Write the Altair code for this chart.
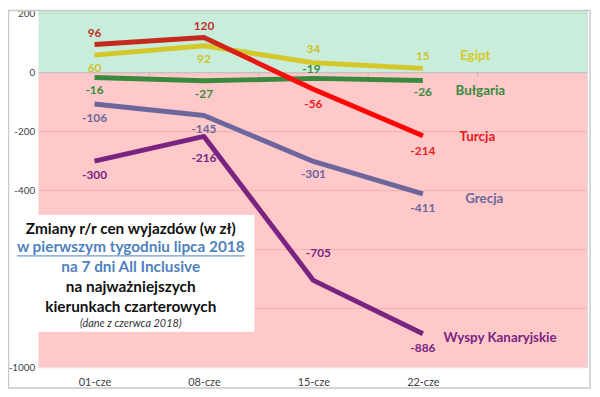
import altair as alt
import pandas as pd

# ---- data ----
dates = ["01-cze", "08-cze", "15-cze", "22-cze"]
series = ["Turcja", "Egipt", "Bułgaria", "Grecja", "Wyspy Kanaryjskie"]
turcja = [96, 120, -56, -214]
egipt = [60, 92, 34, 15]
bulgaria = [-16, -27, -19, -26]
grecja = [-106, -145, -301, -411]
wyspy = [-300, -216, -705, -886]
values = [turcja, egipt, bulgaria, grecja, wyspy]

y_ticks = [200, 0, -200, -400, -1000]
grid_values = [200, -200, -400, -600, -800]

title_lines = [
    "Zmiany r/r cen wyjazdów (w zł)",
    "w pierwszym tygodniu lipca 2018",
    "na 7 dni All Inclusive",
    "na najważniejszych",
    "kierunkach czarterowych",
    "(dane z czerwca 2018)",
]

# ---- styles / label placement (pixels) ----
colors = ["#e8181c", "#d4c72a", "#3a8a3e", "#6c669c", "#7a2482"]
label_colors = [
    ["#c0302a", "#c0302a", "#ee1c1c", "#ee1c1c"],
    ["#cfc22e"] * 4,
    ["#3a8a3e"] * 4,
    ["#6c669c"] * 4,
    ["#7a2482"] * 4,
]
label_dy = [
    [-12, -12, 15, 15],
    [13, 13, -14, -12],
    [13, 13, -9, 12],
    [14, 14, 13, 14],
    [14, 22, -28, 14],
]
label_dx = [
    [0, 0, 0, 0],
    [0, 0, 0, 0],
    [0, 0, -2, 0],
    [0, 0, 0, 0],
    [0, 0, 5, 0],
]
name_dx = [55, 53, 58, 62, 78]
name_dy = [1, -12, 11, 5, 4]

FONT = "Lato"
W, H = 554, 360
YMIN, YMAX = -1000, 210
XMIN, XMAX = -0.51, 4.5
PX_Y = H / (YMAX - YMIN)
PX_X = W / (XMAX - XMIN)

rows = []
for s, vals, lc, dys, dxs in zip(series, values, label_colors, label_dy, label_dx):
    for i, v in enumerate(vals):
        rows.append({"series": s, "idx": i, "value": v,
                     "lcolor": lc[i], "dy": dys[i], "dx": dxs[i]})
df = pd.DataFrame(rows)

names = pd.DataFrame({
    "series": series,
    "idx": [len(dates) - 1] * len(series),
    "value": [v[-1] for v in values],
    "color": colors,
    "dx": name_dx,
    "dy": name_dy,
})

bands = pd.DataFrame({"lo": [0, YMIN], "hi": [YMAX, 0], "fill": ["#c8eedb", "#ffc9c9"]})
grid = pd.DataFrame({"g": grid_values, "c": ["#b3e0c8"] + ["#efb2b2"] * 4})
boundaries = pd.DataFrame({"b": [i + 0.5 for i in range(len(dates))]})

label_expr = "[" + ",".join(f"'{d}'" for d in dates) + "][datum.value]"

xscale = alt.Scale(domain=[XMIN, XMAX], nice=False, zero=False)
yscale = alt.Scale(domain=[YMIN, YMAX], nice=False, zero=False)

xaxis = alt.Axis(values=list(range(len(dates))), labelExpr=label_expr, title=None,
                 grid=False, ticks=False, domain=False, labelFont=FONT,
                 labelFontSize=11, labelColor="#404040", labelPadding=9)
yaxis = alt.Axis(values=y_ticks, title=None, grid=False, ticks=False, domain=False,
                 labelExpr="'' + datum.value",
                 labelFont=FONT, labelFontSize=10, labelColor="#404040", labelPadding=4)


def X(f):
    return alt.X(f, scale=xscale, axis=xaxis)


def Y(f):
    return alt.Y(f, scale=yscale, axis=yaxis)


bg = alt.Chart(bands).mark_rect().encode(
    x=alt.value(0), x2=alt.value(W),
    y=Y("lo:Q"), y2="hi:Q",
    fill=alt.Fill("fill:N", scale=None),
)

gridlines = alt.Chart(grid).mark_rule(strokeWidth=1).encode(
    x=alt.value(0), x2=alt.value(W),
    y=Y("g:Q"),
    color=alt.Color("c:N", scale=None),
)

zero = alt.Chart(pd.DataFrame({"z": [0]})).mark_rule(color="#b5b5b5", strokeWidth=1).encode(
    x=alt.value(0), x2=alt.value(W), y=Y("z:Q")
)
ticks = alt.Chart(boundaries).mark_rule(color="#b5b5b5").transform_calculate(
    z0="0", z1=f"{-4 / PX_Y}"
).encode(
    x=X("b:Q"), y=Y("z0:Q"), y2="z1:Q",
)

others = df[df.series != "Turcja"]
lines = alt.Chart(others).mark_line(strokeWidth=5, strokeJoin="round").encode(
    x=X("idx:Q"), y=Y("value:Q"),
    color=alt.Color("series:N", scale=alt.Scale(domain=series, range=colors), legend=None),
    detail="series:N",
)
turcja_line = alt.Chart(df[df.series == "Turcja"]).mark_line(
    strokeWidth=5, strokeJoin="round",
    color=alt.Gradient(gradient="linear", x1=0, x2=1, y1=0, y2=0,
                       stops=[alt.GradientStop(color="#c42a1e", offset=0),
                              alt.GradientStop(color="#c42a1e", offset=0.33),
                              alt.GradientStop(color="#ff0a0a", offset=0.6),
                              alt.GradientStop(color="#ff0000", offset=1)]),
).encode(x=X("idx:Q"), y=Y("value:Q"))

vlabels = alt.Chart(df).mark_text(font=FONT, fontSize=12, fontWeight="bold").transform_calculate(
    lx=f"datum.idx + datum.dx / {PX_X}",
    ly=f"datum.value - datum.dy / {PX_Y}",
    txt="'' + datum.value",
).encode(
    x=X("lx:Q"), y=Y("ly:Q"),
    text="txt:N",
    color=alt.Color("lcolor:N", scale=None),
)

nlabels = alt.Chart(names).mark_text(font=FONT, fontSize=13.5, fontWeight="bold").transform_calculate(
    lx=f"datum.idx + datum.dx / {PX_X}",
    ly=f"datum.value - datum.dy / {PX_Y}",
).encode(
    x=X("lx:Q"), y=Y("ly:Q"),
    text="series:N",
    color=alt.Color("color:N", scale=None),
)

one = pd.DataFrame({"a": [0]})
box = alt.Chart(one).mark_rect(fill="white").encode(
    x=alt.value(-28), x2=alt.value(218), y=alt.value(206), y2=alt.value(324)
)
border = alt.Chart(one).mark_rect(fill=None, stroke="#c8c8c8", strokeWidth=1.5).encode(
    x=alt.value(-30.5), x2=alt.value(W + 3), y=alt.value(-0.5), y2=alt.value(H + 21)
)

cx = 93
line_y = [220, 239, 259, 279, 299, 316]
line_col = ["#111111", "#4f81bd", "#4f81bd", "#111111", "#111111", "#333333"]
title_layers = []
for i, (t, ly, lc) in enumerate(zip(title_lines, line_y, line_col)):
    italic = i == len(title_lines) - 1
    title_layers.append(
        alt.Chart(one).mark_text(
            text=t, font=FONT, fontSize=11 if italic else 15.5,
            fontWeight="normal" if italic else "bold",
            fontStyle="italic" if italic else "normal",
            color=lc, align="center", baseline="middle",
        ).encode(x=alt.value(cx), y=alt.value(ly))
    )
underline = alt.Chart(one).mark_rule(color="#4f81bd", strokeWidth=1).encode(
    x=alt.value(-22), x2=alt.value(208), y=alt.value(247.5)
)

chart = alt.layer(
    bg, gridlines, zero, ticks, lines, turcja_line, vlabels, nlabels,
    box, underline, *title_layers, border,
).properties(
    width=W, height=H,
    autosize=alt.AutoSizeParams(type="none"),
    padding={"left": 31, "top": 1, "right": 5, "bottom": 22},
).configure_view(stroke=None).configure(background="white")

chart.save("out.html", embed_options={"renderer": "svg", "actions": False})
